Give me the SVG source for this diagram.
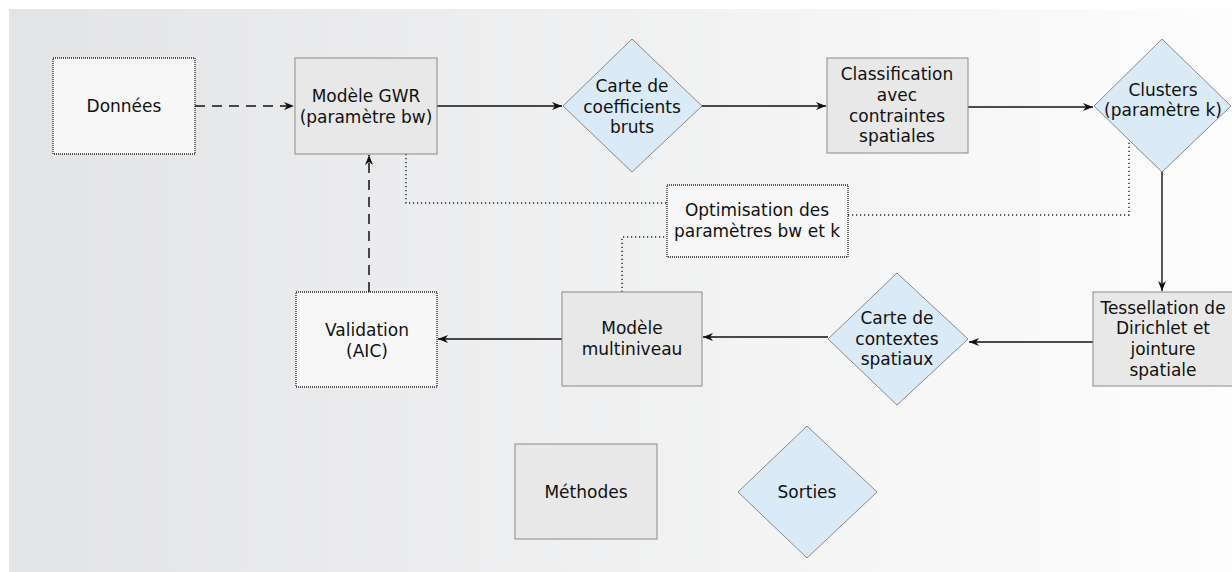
<svg xmlns="http://www.w3.org/2000/svg" width="1232" height="572" viewBox="0 0 1232 572">
<defs>
<linearGradient id="bg" x1="0" y1="0" x2="1" y2="0">
<stop offset="0" stop-color="#e3e4e6"/>
<stop offset="1" stop-color="#fdfdfd"/>
</linearGradient>
<marker id="arr" viewBox="0 0 10 8" refX="10" refY="4" markerWidth="10" markerHeight="8" markerUnits="userSpaceOnUse" orient="auto">
<path d="M0,0 L10,4 L0,8 L3,4 Z" fill="#111"/>
</marker>
</defs>
<style>
text{font-family:"DejaVu Sans","Liberation Sans",sans-serif;font-size:17px;fill:#111;text-anchor:middle}
.m{fill:#e8e8e8;stroke:#8a8a8a;stroke-width:1}
.d{fill:#f7f7f7;stroke:#222;stroke-width:1.3;stroke-dasharray:1 1}
.s{fill:#dbeaf7;stroke:#8a8a8a;stroke-width:1}
.c{fill:none;stroke:#111;stroke-width:1.4}
.dash{fill:none;stroke:#111;stroke-width:1.5;stroke-dasharray:10 7}
.dot{fill:none;stroke:#222;stroke-width:1.4;stroke-dasharray:1.2 2.8}
</style>
<rect x="9" y="9" width="1223" height="563" fill="url(#bg)"/>
<g id="connectors">
<path class="dash" d="M195,106 H294" marker-end="url(#arr)"/>
<path class="c" d="M437,106 H562" marker-end="url(#arr)"/>
<path class="c" d="M702,106 H826" marker-end="url(#arr)"/>
<path class="c" d="M968,107 H1093" marker-end="url(#arr)"/>
<path class="c" d="M1162,172 V291" marker-end="url(#arr)"/>
<path class="c" d="M1093,342 H969" marker-end="url(#arr)"/>
<path class="c" d="M828,337 H703" marker-end="url(#arr)"/>
<path class="c" d="M562,339 H438" marker-end="url(#arr)"/>
<path class="dash" d="M369,292 V155" marker-end="url(#arr)"/>
<path class="dot" d="M406,154 V203 H667"/>
<path class="dot" d="M622,292 V237 H667"/>
<path class="dot" d="M848,215 H1129 V140"/>
</g>
<g id="donnees"><rect class="d" x="53" y="58" width="142" height="96"/><text x="124" y="112">Données</text></g>
<g id="gwr"><rect class="m" x="295" y="58" width="142" height="96"/><text x="366" y="102">Modèle GWR</text><text x="366" y="123">(paramètre bw)</text></g>
<g id="coeffs"><polygon class="s" points="632,39 702,106 632,172 563,106"/><text x="632" y="92">Carte de</text><text x="632" y="113">coefficients</text><text x="632" y="133">bruts</text></g>
<g id="classification"><rect class="m" x="827" y="58" width="141" height="95"/><text x="897" y="80">Classification</text><text x="897" y="101">avec</text><text x="897" y="122">contraintes</text><text x="897" y="142">spatiales</text></g>
<g id="clusters"><polygon class="s" points="1162,39 1231,106 1162,172 1094,106"/><text x="1163" y="96">Clusters</text><text x="1163" y="116">(paramètre k)</text></g>
<g id="tessellation"><rect class="m" x="1093" y="292" width="142" height="94"/><text x="1163" y="314">Tessellation de</text><text x="1163" y="334">Dirichlet et</text><text x="1163" y="355">jointure</text><text x="1163" y="376">spatiale</text></g>
<g id="contextes"><polygon class="s" points="897,273 968,339 897,405 828,339"/><text x="897" y="324">Carte de</text><text x="897" y="345">contextes</text><text x="897" y="365">spatiaux</text></g>
<g id="multiniveau"><rect class="m" x="562" y="292" width="140" height="94"/><text x="632" y="334">Modèle</text><text x="632" y="355">multiniveau</text></g>
<g id="validation"><rect class="d" x="296" y="292" width="141" height="95"/><text x="367" y="336">Validation</text><text x="367" y="357">(AIC)</text></g>
<g id="optimisation"><rect class="d" x="667" y="185" width="181" height="72"/><text x="757" y="216">Optimisation des</text><text x="757" y="237">paramètres bw et k</text></g>
<g id="methodes"><rect class="m" x="515" y="444" width="142" height="95"/><text x="586" y="498">Méthodes</text></g>
<g id="sorties"><polygon class="s" points="807,426 877,492 807,558 738,492"/><text x="807" y="498">Sorties</text></g>
</svg>
